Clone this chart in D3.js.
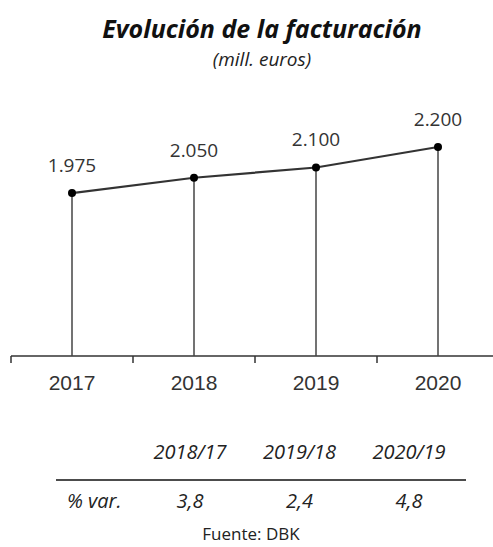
<!DOCTYPE html>
<html>
<head>
<meta charset="utf-8">
<script src="https://cdn.jsdelivr.net/npm/d3@7"></script>
<style>
  body { margin: 0; background: #fff; }
  svg { display: block; font-family: "Open Sans", sans-serif; }
</style>
</head>
<body>
<div id="chart"></div>
<script>
var years = ["2017", "2018", "2019", "2020"];
var revenue = [1975, 2050, 2100, 2200];
var varPeriods = ["2018/17", "2019/18", "2020/19"];
var varValues = ["3,8", "2,4", "4,8"];

var width = 493, height = 547;
var axisY = 356;

var svg = d3.select("#chart").append("svg")
    .attr("width", width)
    .attr("height", height);

var x = d3.scaleBand()
    .domain(years)
    .range([11, 499]);

var y = d3.scaleLinear()
    .domain([1180, 2200])
    .range([axisY, 147]);

var data = years.map(function(d, i) { return {year: d, value: revenue[i]}; });
var cx = function(d) { return x(d.year) + x.bandwidth() / 2; };

// title
svg.append("text")
    .attr("x", 262).attr("y", 38)
    .attr("text-anchor", "middle")
    .style("font-size", "25px").style("font-weight", "bold").style("font-style", "italic")
    .attr("fill", "#111")
    .text("Evolución de la facturación");

svg.append("text")
    .attr("x", 262).attr("y", 66)
    .attr("text-anchor", "middle")
    .style("font-size", "19px").style("font-style", "italic")
    .attr("fill", "#222")
    .text("(mill. euros)");

// x axis: baseline with ticks on band edges
var axis = svg.append("g")
    .attr("transform", "translate(0," + axisY + ")")
    .call(d3.axisBottom(x).tickSize(0).tickPadding(19));
axis.select(".domain").remove();
axis.append("line")
    .attr("x1", 11).attr("x2", width)
    .attr("stroke", "#333").attr("stroke-width", 1.5);
axis.selectAll(".edge")
    .data(years)
  .enter().append("line")
    .attr("class", "edge")
    .attr("x1", function(d) { return x(d); })
    .attr("x2", function(d) { return x(d); })
    .attr("y1", 0).attr("y2", 7)
    .attr("stroke", "#333").attr("stroke-width", 1.5);
axis.selectAll(".tick text")
    .style("font-size", "21px")
    .attr("fill", "#333");

// drop lines
svg.selectAll(".drop")
    .data(data)
  .enter().append("line")
    .attr("class", "drop")
    .attr("x1", cx).attr("x2", cx)
    .attr("y1", function(d) { return y(d.value); })
    .attr("y2", axisY)
    .attr("stroke", "#444").attr("stroke-width", 1.5);

// line
var line = d3.line()
    .x(cx)
    .y(function(d) { return y(d.value); });

svg.append("path")
    .datum(data)
    .attr("d", line)
    .attr("fill", "none")
    .attr("stroke", "#333")
    .attr("stroke-width", 2.2);

svg.selectAll(".dot")
    .data(data)
  .enter().append("circle")
    .attr("class", "dot")
    .attr("cx", cx)
    .attr("cy", function(d) { return y(d.value); })
    .attr("r", 4)
    .attr("fill", "#000");

svg.selectAll(".val")
    .data(data)
  .enter().append("text")
    .attr("class", "val")
    .attr("x", cx)
    .attr("y", function(d) { return y(d.value) - 21; })
    .attr("text-anchor", "middle")
    .style("font-size", "19px")
    .attr("fill", "#333")
    .text(function(d) { return d3.format(",")(d.value).replace(",", "."); });

// variation table
var col = d3.scalePoint().domain(varPeriods).range([190, 409]);

svg.selectAll(".period")
    .data(varPeriods)
  .enter().append("text")
    .attr("class", "period")
    .attr("x", function(d) { return col(d); })
    .attr("y", 459)
    .attr("text-anchor", "middle")
    .style("font-size", "20px").style("font-style", "italic")
    .attr("fill", "#222")
    .text(function(d) { return d; });

svg.append("line")
    .attr("x1", 56).attr("x2", 466)
    .attr("y1", 480).attr("y2", 480)
    .attr("stroke", "#111").attr("stroke-width", 1.5);

svg.append("text")
    .attr("x", 67).attr("y", 508)
    .style("font-size", "20px").style("font-style", "italic")
    .attr("fill", "#222")
    .text("% var.");

svg.selectAll(".pct")
    .data(varPeriods)
  .enter().append("text")
    .attr("class", "pct")
    .attr("x", function(d) { return col(d); })
    .attr("y", 508)
    .attr("text-anchor", "middle")
    .style("font-size", "20px").style("font-style", "italic")
    .attr("fill", "#222")
    .text(function(d, i) { return varValues[i]; });

svg.append("text")
    .attr("x", 251).attr("y", 540)
    .attr("text-anchor", "middle")
    .style("font-size", "17px")
    .attr("fill", "#222")
    .text("Fuente: DBK");
</script>
</body>
</html>
